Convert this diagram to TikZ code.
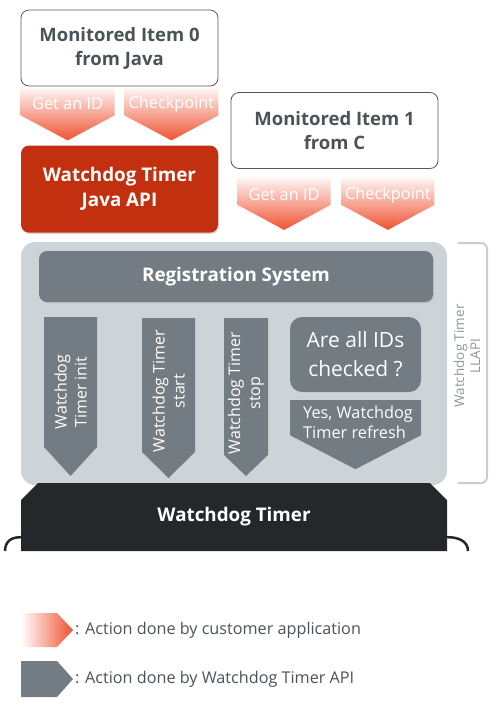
\documentclass[tikz,border=0pt]{standalone}
\usepackage{fontspec}
\setmainfont{Open Sans}
\usetikzlibrary{positioning,shapes.misc,shadows}
\definecolor{itemline}{HTML}{55595C}
\definecolor{titlegray}{HTML}{4B5358}
\definecolor{javared}{HTML}{C2300F}
\definecolor{custred}{HTML}{EF5232}
\definecolor{panelgray}{HTML}{CDD4D7}
\definecolor{apigray}{HTML}{737C82}
\definecolor{wdblack}{HTML}{25282A}
\definecolor{llapigray}{HTML}{C9CED1}
\definecolor{llapitext}{HTML}{8F979B}

\begin{document}
\begin{tikzpicture}[x=1pt,y=-1pt,
  item/.style={draw=itemline,line width=0.8pt,fill=white,rounded corners=8pt,
    minimum height=76pt,align=center,text=titlegray,
    font=\fontsize{18.5}{24}\selectfont\bfseries},
  chevbody/.style={inner sep=0pt,outer sep=0pt},
  userfill/.style={top color=custred!6,bottom color=custred},
  apifill/.style={fill=apigray},
  actlabel/.style={text=white,font=\fontsize{16.3}{20}\selectfont,inner sep=0pt},
  apilabel/.style={text=white,font=\fontsize{16}{20}\selectfont,align=center,rotate=90,inner sep=0pt},
  boldwhite/.style={text=white,font=\fontsize{18.8}{25}\selectfont\bfseries,align=center},
  legend/.style={text=titlegray,font=\fontsize{16.2}{20}\selectfont,inner sep=0pt}]
\useasboundingbox (0,0) rectangle (500,713);

% monitored items and their actions
\node[item,minimum width=197pt] (item0) at (119.5,48) {Monitored Item 0\\from Java};
\node[chevbody,minimum width=94pt,minimum height=27pt,anchor=north west] (get0) at ([yshift=-2pt]item0.south west) {};
\node[chevbody,minimum width=94pt,minimum height=27pt,anchor=north east] (check0) at ([yshift=-2pt]item0.south east) {};
\path[userfill] (get0.north west) -- (get0.south west) -- ([yshift=-25pt]get0.south) -- (get0.south east) -- (get0.north east) -- cycle;
\path[userfill] (check0.north west) -- (check0.south west) -- ([yshift=-25pt]check0.south) -- (check0.south east) -- (check0.north east) -- cycle;
\node[actlabel] (get0txt) at ([yshift=-2pt]get0.center) {Get an ID};
\node[actlabel] (check0txt) at ([yshift=-2pt]check0.center) {Checkpoint};

\node[boldwhite,fill=javared,rounded corners=8pt,minimum width=197pt,minimum height=87pt,
  drop shadow={opacity=.3,shadow xshift=1pt,shadow yshift=-1.5pt},below=59pt of item0] (java) {Watchdog Timer\\Java API};

\node[item,minimum width=207pt] (item1) at (334.5,130.5) {Monitored Item 1\\from C};
\node[chevbody,minimum width=93pt,minimum height=27pt,anchor=north west] (get1) at ([xshift=7pt,yshift=-9pt]item1.south west) {};
\node[chevbody,minimum width=93pt,minimum height=27pt,anchor=north east] (check1) at ([xshift=-4pt,yshift=-9pt]item1.south east) {};
\path[userfill] (get1.north west) -- (get1.south west) -- ([yshift=-25pt]get1.south) -- (get1.south east) -- (get1.north east) -- cycle;
\path[userfill] (check1.north west) -- (check1.south west) -- ([yshift=-25pt]check1.south) -- (check1.south east) -- (check1.north east) -- cycle;
\node[actlabel] (get1txt) at ([yshift=-3pt]get1.center) {Get an ID};
\node[actlabel] (check1txt) at ([yshift=-4pt]check1.center) {Checkpoint};

% low level API
\node[fill=panelgray,rounded corners=14pt,minimum width=426pt,minimum height=243pt] (panel) at (234,363.5) {};
\node[boldwhite,fill=apigray,rounded corners=8pt,minimum width=394pt,minimum height=51pt,
  drop shadow={opacity=.2,shadow xshift=1pt,shadow yshift=-1pt}] (reg) at (236,276.5) {Registration System};

\node[chevbody,minimum width=53pt,minimum height=130pt] (init) at (70.5,382) {};
\node[chevbody,minimum width=53pt,minimum height=134pt] (start) at (168.5,385) {};
\node[chevbody,minimum width=44pt,minimum height=137pt] (stop) at (246,386.5) {};
\path[apifill] (init.north west) -- (init.south west) -- ([yshift=-29pt]init.south) -- (init.south east) -- (init.north east) -- cycle;
\path[apifill] (start.north west) -- (start.south west) -- ([yshift=-26pt]start.south) -- (start.south east) -- (start.north east) -- cycle;
\path[apifill] (stop.north west) -- (stop.south west) -- ([yshift=-21pt]stop.south) -- (stop.south east) -- (stop.north east) -- cycle;
\node[apilabel] (inittxt) at (70.5,392) {Watchdog\\Timer init};
\node[apilabel] (starttxt) at (168.5,391) {Watchdog Timer\\start};
\node[apilabel] (stoptxt) at (246,393) {Watchdog Timer\\stop};

\node[fill=apigray,rounded corners=12pt,minimum width=131pt,minimum height=75pt,text=white,
  align=center,font=\fontsize{21}{29}\selectfont] (allids) at (355.5,354.5) {Are all IDs\\checked ?};
\node[chevbody,minimum width=131pt,minimum height=35pt,below=8pt of allids] (refresh) {};
\path[apifill] (refresh.north west) -- (refresh.south west) -- ([yshift=-34pt]refresh.south) -- (refresh.south east) -- (refresh.north east) -- cycle;
\node[actlabel,align=left] (refreshtxt) at (358,422) {Yes, Watchdog\\Timer refresh};

\node[chamfered rectangle,chamfered rectangle corners={north west,north east},
  chamfered rectangle xsep=8pt,chamfered rectangle ysep=9pt,fill=wdblack,
  minimum width=426pt,minimum height=68pt,inner sep=0pt,boldwhite] (wd) at (234,517) {Watchdog Timer};
\coordinate (arcl) at (5,551);
\coordinate (arcr) at (468,551);
\draw[wdblack,line width=2.5pt] (arcl) .. controls (5,541) and (12,537) .. ([yshift=14pt]wd.south west);
\draw[wdblack,line width=2.5pt] ([yshift=14pt]wd.south east) .. controls (458,537) and (468,541) .. (arcr);

% LLAPI bracket
\draw[llapigray,line width=2pt,rounded corners=6pt] (458,243) -- (487,243) -- (487,483) -- (458,483);
\node[text=llapitext,font=\fontsize{13.5}{16}\selectfont,align=center,rotate=90,inner sep=0pt] (llapi) at (467,356) {Watchdog Timer\\LLAPI};

% legend
\node[chevbody,minimum width=36pt,minimum height=34pt,anchor=north west] (leguser) at (21,613) {};
\node[chevbody,minimum width=36pt,minimum height=36pt,anchor=north west] (legapi) at (21,661) {};
\path[left color=white,right color=custred] (leguser.north west) -- (leguser.north east) -- ([xshift=16pt]leguser.east) -- (leguser.south east) -- (leguser.south west) -- cycle;
\path[apifill] (legapi.north west) -- (legapi.north east) -- ([xshift=16pt]legapi.east) -- (legapi.south east) -- (legapi.south west) -- cycle;
\node[legend,right=18pt of leguser.east] (legusertxt) {: Action done by customer application};
\node[legend,right=18pt of legapi.east] (legapitxt) {: Action done by Watchdog Timer API};
\end{tikzpicture}
\end{document}
